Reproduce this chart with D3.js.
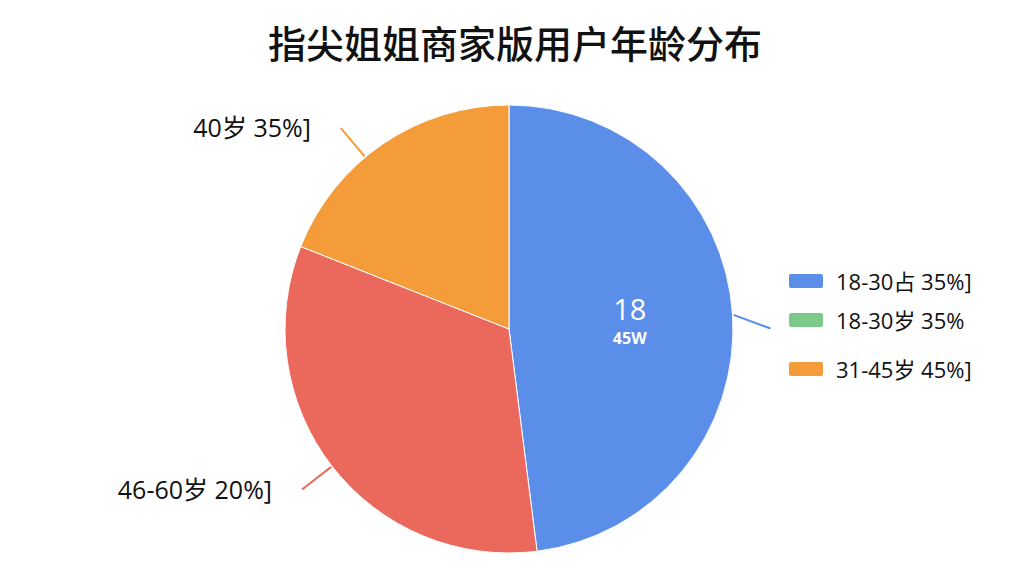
<!DOCTYPE html>
<meta charset="utf-8">
<style>
  body { margin: 0; background: #fff; }
  text { font-family: "Open Sans", "Noto Sans CJK SC", sans-serif; }
</style>
<body>
<svg width="1024" height="576"></svg>
<script src="https://cdn.jsdelivr.net/npm/d3@7"></script>
<script>

var title = "指尖姐姐商家版用户年龄分布";

// slices, clockwise from 12 o'clock
var sliceNames = ["18-30岁", "46-60岁", "40岁"];
var sliceValues = [48, 33, 19];
var sliceColors = ["#5a8ee8", "#ea685c", "#f49c3a"];
var sliceLabels = ["", "46-60岁 20%]", "40岁 35%]"];

// text inside the blue slice
var innerMain = "18";
var innerSub = "45W";

// legend entries (as printed on the picture)
var legendLabels = ["18-30占 35%]", "18-30岁 35%", "31-45岁 45%]"];
var legendColors = ["#5a8ee8", "#7cc98a", "#f49c3a"];

var svg = d3.select("svg"),
    cx = 509, cy = 329, radius = 224;

svg.append("text")
   .attr("x", 515).attr("y", 41)
   .attr("text-anchor", "middle")
   .attr("dominant-baseline", "central")
   .style("font-family", "'Noto Sans CJK SC', sans-serif")
   .style("font-size", "38px")
   .style("font-weight", "500")
   .attr("fill", "#111")
   .text(title);

var g = svg.append("g").attr("transform", "translate(" + cx + "," + cy + ")");

var pie = d3.pie().sort(null).value(function(d) { return d; });
var arcs = pie(sliceValues);

var path = d3.arc().innerRadius(0).outerRadius(radius);
var inner = d3.arc().innerRadius(radius * 0.54).outerRadius(radius * 0.54);

// leader lines sit a little before the middle of the small slice
function leaderAngle(d) {
  var mid = (d.startAngle + d.endAngle) / 2;
  return d.index === 2 ? mid - 0.1 : mid;
}
function polar(a, r) { return [Math.sin(a) * r, -Math.cos(a) * r]; }

var leaders = arcs.map(function(d) {
  var a = leaderAngle(d),
      p1 = polar(a, radius + 1),
      p2 = polar(a, radius + 38);
  if (d.index === 0) p2[1] += 16;
  return {d: d, p1: p1, p2: p2};
});

g.selectAll("path.slice")
 .data(arcs)
 .enter().append("path")
 .attr("class", "slice")
 .attr("d", path)
 .attr("fill", function(d, i) { return sliceColors[i]; })
 .attr("stroke", "#fff")
 .attr("stroke-width", 1);

g.selectAll("line.leader")
 .data(leaders)
 .enter().append("line")
 .attr("class", "leader")
 .attr("x1", function(l) { return l.p1[0]; })
 .attr("y1", function(l) { return l.p1[1]; })
 .attr("x2", function(l) { return l.p2[0]; })
 .attr("y2", function(l) { return l.p2[1]; })
 .attr("stroke", function(l) { return sliceColors[l.d.index]; })
 .attr("stroke-width", 2);

// outside labels
g.selectAll("text.outer")
 .data(leaders.filter(function(l) { return sliceLabels[l.d.index]; }))
 .enter().append("text")
 .attr("class", "outer")
 .attr("x", function(l) { return l.p2[0] - 30; })
 .attr("y", function(l) { return l.p2[1] - 1; })
 .attr("text-anchor", "end")
 .attr("dominant-baseline", "central")
 .style("font-size", "25px")
 .attr("fill", "#111")
 .text(function(l) { return sliceLabels[l.d.index]; });

// inner label on the blue slice
var c = inner.centroid(arcs[0]);
g.append("text")
 .attr("x", c[0]).attr("y", c[1] - 13)
 .attr("text-anchor", "middle")
 .attr("dominant-baseline", "central")
 .style("font-size", "29px")
 .attr("fill", "#fff")
 .text(innerMain);
g.append("text")
 .attr("x", c[0]).attr("y", c[1] + 17)
 .attr("text-anchor", "middle")
 .attr("dominant-baseline", "central")
 .style("font-size", "16px")
 .style("font-weight", "bold")
 .attr("fill", "#fff")
 .text(innerSub);

// legend
var legendY = [281, 320, 369];
var legend = svg.selectAll("g.legend")
  .data(legendLabels)
  .enter().append("g")
  .attr("class", "legend")
  .attr("transform", function(d, i) { return "translate(789," + legendY[i] + ")"; });

legend.append("rect")
  .attr("x", 0).attr("y", -7)
  .attr("width", 34).attr("height", 14)
  .attr("rx", 2)
  .attr("fill", function(d, i) { return legendColors[i]; });

legend.append("text")
  .attr("x", 47).attr("y", 0)
  .attr("dominant-baseline", "central")
  .style("font-size", "22px")
  .attr("fill", "#111")
  .text(function(d) { return d; });

</script>
</body>
